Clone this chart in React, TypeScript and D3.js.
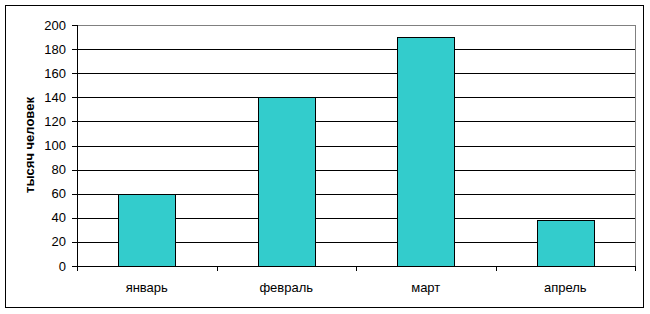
import React from "react";
import * as d3 from "d3";

const categories = ["январь", "февраль", "март", "апрель"];
const values = [60, 140, 190, 38];
const yTicks = [0, 20, 40, 60, 80, 100, 120, 140, 160, 180, 200];
const yTitle = "тысяч человек";

export default function App() {
  const W = 650, H = 314;
  const left = 77, right = 635, top = 25, bottom = 266;
  const x = d3.scaleBand().domain(categories).range([left, right]).paddingInner(0.59).paddingOuter(0.295);
  const y = d3.scaleLinear().domain([0, 200]).range([bottom, top]);
  const font = "'Liberation Sans', Arial, sans-serif";
  const step = (right - left) / categories.length;
  return (
    <svg width={W} height={H} style={{ position: "absolute", left: 0, top: 0 }} fontFamily={font}>
      <rect x={0} y={0} width={W} height={H} fill="#fff" />
      <rect x={5.5} y={5.5} width={638} height={302} fill="none" stroke="#000" />
      {yTicks.filter(t => t > 0 && t < 200).map(t => (
        <line key={t} x1={left} x2={right} y1={Math.round(y(t)) + 0.5} y2={Math.round(y(t)) + 0.5} stroke="#000" />
      ))}
      <line x1={left} x2={right + 0.5} y1={top + 0.5} y2={top + 0.5} stroke="#808080" />
      <line x1={right + 0.5} x2={right + 0.5} y1={top} y2={bottom} stroke="#808080" />
      {categories.map((c, i) => (
        <rect key={c} x={Math.round(x(c)!) + 0.5} y={Math.round(y(values[i])) + 0.5}
          width={Math.round(x.bandwidth())} height={Math.round(y(0)) - Math.round(y(values[i]))}
          fill="#33CCCC" stroke="#000" />
      ))}
      <line x1={left + 0.5} x2={left + 0.5} y1={top} y2={bottom + 1} stroke="#000" />
      <line x1={left} x2={right + 1} y1={bottom + 0.5} y2={bottom + 0.5} stroke="#000" />
      {yTicks.map(t => (
        <g key={t}>
          <line x1={left - 5} x2={left} y1={Math.round(y(t)) + 0.5} y2={Math.round(y(t)) + 0.5} stroke="#000" />
          <text x={left - 11} y={y(t)} dy="0.35em" textAnchor="end" fontSize={13}>{t}</text>
        </g>
      ))}
      {d3.range(categories.length + 1).map(i => (
        <line key={i} x1={Math.round(left + i * step) + 0.5} x2={Math.round(left + i * step) + 0.5}
          y1={bottom} y2={bottom + 5} stroke="#000" />
      ))}
      {categories.map(c => (
        <text key={c} x={x(c)! + x.bandwidth() / 2} y={292} textAnchor="middle" fontSize={13}>{c}</text>
      ))}
      <text transform="translate(34,145) rotate(-90)" textAnchor="middle" fontSize={13} fontWeight="bold">{yTitle}</text>
    </svg>
  );
}
